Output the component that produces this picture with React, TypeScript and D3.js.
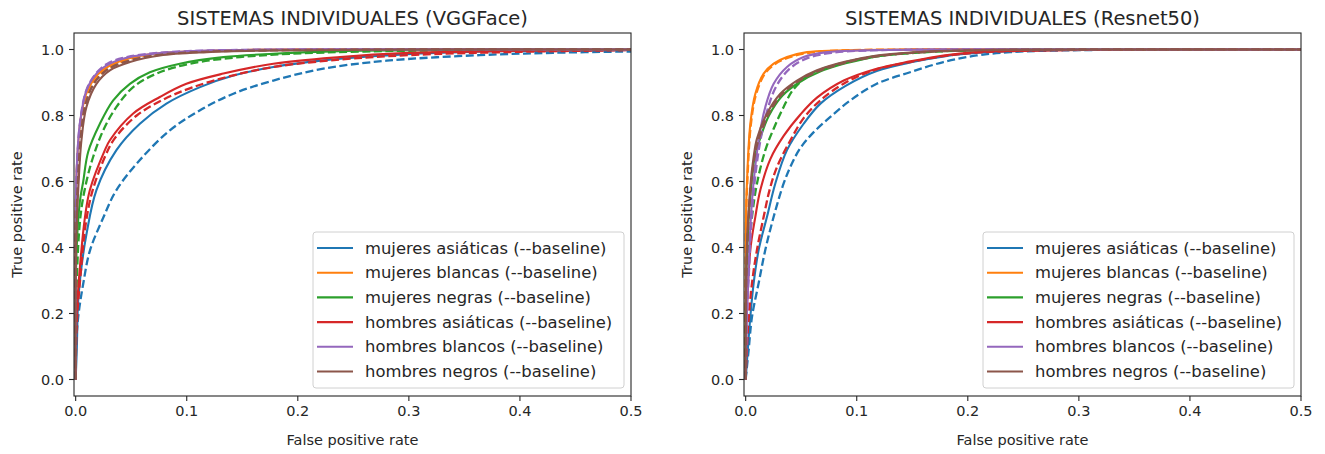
import React from "react";
import * as d3 from "d3";

type Pt = [number, number];

// ---------- Categories / legend labels ----------
const groupLabels = [
  "mujeres asiáticas (--baseline)",
  "mujeres blancas (--baseline)",
  "mujeres negras (--baseline)",
  "hombres asiáticas (--baseline)",
  "hombres blancos (--baseline)",
  "hombres negros (--baseline)",
];
const groupColors = ["#1f77b4", "#ff7f0e", "#2ca02c", "#d62728", "#9467bd", "#8c564b"];
const panelTitles = ["SISTEMAS INDIVIDUALES (VGGFace)", "SISTEMAS INDIVIDUALES (Resnet50)"];
const xTicks = [0, 0.1, 0.2, 0.3, 0.4, 0.5];
const yTicks = [0, 0.2, 0.4, 0.6, 0.8, 1.0];

// ---------- VGGFace: [fpr, tpr] ----------
const vggAsianWomen: Pt[] = [[0,0],[0.001,0.09],[0.0023,0.24],[0.0052,0.34],[0.0097,0.44],[0.0187,0.574],[0.0367,0.695],[0.0578,0.775],[0.0817,0.836],[0.112,0.886],[0.142,0.921],[0.178,0.947],[0.223,0.967],[0.295,0.985],[0.37,0.994],[0.5,0.999]];
const vggAsianWomenBase: Pt[] = [[0,0],[0,0.08],[0.0023,0.19],[0.0068,0.29],[0.0128,0.39],[0.0248,0.49],[0.0367,0.574],[0.0578,0.665],[0.0848,0.755],[0.112,0.816],[0.142,0.866],[0.178,0.906],[0.223,0.942],[0.28,0.966],[0.364,0.983],[0.43,0.99],[0.5,0.994]];
const vggWhiteWomen: Pt[] = [[0,0],[0.0002,0.55],[0.002,0.7],[0.005,0.8],[0.01,0.87],[0.02,0.925],[0.03,0.95],[0.05,0.975],[0.08,0.99],[0.13,0.997],[0.2,1],[0.5,1]];
const vggWhiteWomenBase: Pt[] = [[0,0],[0.0002,0.52],[0.0022,0.69],[0.0055,0.79],[0.011,0.865],[0.021,0.92],[0.032,0.948],[0.052,0.974],[0.082,0.988],[0.13,0.996],[0.2,1],[0.5,1]];
const vggBlackWomen: Pt[] = [[0,0],[0.0008,0.39],[0.0038,0.54],[0.0068,0.6],[0.0113,0.69],[0.0218,0.775],[0.0338,0.846],[0.0488,0.896],[0.0668,0.931],[0.0938,0.957],[0.133,0.977],[0.178,0.987],[0.238,0.995],[0.33,0.998],[0.5,1]];
const vggBlackWomenBase: Pt[] = [[0,0],[0.001,0.3],[0.0045,0.5],[0.0097,0.6],[0.0158,0.675],[0.0248,0.755],[0.0367,0.826],[0.0518,0.886],[0.0728,0.927],[0.103,0.957],[0.148,0.977],[0.193,0.987],[0.26,0.994],[0.35,0.998],[0.5,1]];
const vggAsianMen: Pt[] = [[0,0],[0.0008,0.19],[0.0038,0.34],[0.0083,0.49],[0.0128,0.574],[0.0263,0.695],[0.0308,0.725],[0.0518,0.806],[0.0758,0.856],[0.0997,0.896],[0.133,0.927],[0.178,0.957],[0.238,0.977],[0.295,0.989],[0.4,0.996],[0.5,0.999]];
const vggAsianMenBase: Pt[] = [[0,0],[0.001,0.17],[0.0045,0.32],[0.009,0.47],[0.015,0.57],[0.027,0.68],[0.035,0.73],[0.055,0.8],[0.08,0.85],[0.105,0.885],[0.14,0.92],[0.18,0.948],[0.24,0.97],[0.3,0.983],[0.4,0.993],[0.5,0.998]];
const vggWhiteMen: Pt[] = [[0,0],[0.0002,0.5],[0.0008,0.625],[0.0038,0.775],[0.0097,0.876],[0.0187,0.927],[0.0308,0.957],[0.0488,0.977],[0.0758,0.989],[0.118,0.997],[0.2,1],[0.5,1]];
const vggWhiteMenBase: Pt[] = [[0,0],[0.0002,0.48],[0.001,0.63],[0.004,0.78],[0.01,0.88],[0.019,0.93],[0.03,0.96],[0.047,0.978],[0.075,0.99],[0.12,0.997],[0.2,1],[0.5,1]];
const vggBlackMen: Pt[] = [[0,0],[0.0003,0.4],[0.0023,0.574],[0.0052,0.725],[0.0097,0.826],[0.0187,0.896],[0.0308,0.937],[0.0488,0.962],[0.0758,0.982],[0.118,0.992],[0.178,0.997],[0.3,1],[0.5,1]];
const vggBlackMenBase: Pt[] = [[0,0],[0.0003,0.42],[0.002,0.6],[0.0048,0.74],[0.009,0.835],[0.017,0.9],[0.029,0.94],[0.047,0.965],[0.073,0.983],[0.115,0.993],[0.17,0.997],[0.3,1],[0.5,1]];

// ---------- Resnet50: [fpr, tpr] ----------
const resAsianWomen: Pt[] = [[0,0],[0.0042,0.19],[0.0072,0.292],[0.0117,0.393],[0.0192,0.493],[0.0267,0.594],[0.0372,0.695],[0.0522,0.775],[0.0673,0.836],[0.09,0.89],[0.118,0.935],[0.15,0.962],[0.18,0.98],[0.21,0.99],[0.26,0.997],[0.35,1],[0.5,1]];
const resAsianWomenBase: Pt[] = [[0,0],[0.0027,0.09],[0.0057,0.19],[0.0117,0.292],[0.0177,0.393],[0.0252,0.493],[0.0342,0.594],[0.041,0.65],[0.049,0.7],[0.06,0.745],[0.076,0.795],[0.0943,0.846],[0.118,0.896],[0.148,0.931],[0.178,0.962],[0.208,0.982],[0.238,0.992],[0.3,0.998],[0.5,1]];
const resWhiteWomen: Pt[] = [[0,0],[0.0003,0.5],[0.0012,0.6],[0.0042,0.775],[0.0087,0.866],[0.0162,0.927],[0.0252,0.957],[0.0372,0.977],[0.0552,0.992],[0.082,0.997],[0.15,1],[0.5,1]];
const resWhiteWomenBase: Pt[] = [[0,0],[0.0003,0.48],[0.0015,0.6],[0.0046,0.77],[0.0092,0.862],[0.017,0.925],[0.026,0.955],[0.039,0.976],[0.057,0.99],[0.085,0.997],[0.15,1],[0.5,1]];
const resBlackWomen: Pt[] = [[0,0],[0.001,0.36],[0.0045,0.57],[0.008,0.67],[0.012,0.72],[0.021,0.8],[0.033,0.86],[0.048,0.9],[0.067,0.933],[0.09,0.958],[0.12,0.98],[0.165,0.993],[0.22,0.998],[0.3,1],[0.5,1]];
const resBlackWomenBase: Pt[] = [[0,0],[0.002,0.35],[0.0057,0.493],[0.0102,0.594],[0.0177,0.695],[0.0252,0.76],[0.0342,0.826],[0.0432,0.88],[0.0583,0.925],[0.0793,0.952],[0.112,0.977],[0.148,0.989],[0.2,0.997],[0.3,1],[0.5,1]];
const resAsianMen: Pt[] = [[0,0],[0.001,0.2],[0.0042,0.393],[0.0087,0.493],[0.0132,0.574],[0.0222,0.668],[0.0342,0.738],[0.0493,0.803],[0.0642,0.854],[0.0883,0.906],[0.118,0.942],[0.148,0.964],[0.178,0.982],[0.208,0.992],[0.26,0.997],[0.35,1],[0.5,1]];
const resAsianMenBase: Pt[] = [[0,0],[0.002,0.15],[0.0057,0.292],[0.0102,0.393],[0.0162,0.493],[0.0215,0.574],[0.0282,0.644],[0.0403,0.725],[0.0522,0.792],[0.0673,0.846],[0.09,0.9],[0.118,0.94],[0.148,0.962],[0.178,0.98],[0.21,0.991],[0.26,0.997],[0.35,1],[0.5,1]];
const resWhiteMen: Pt[] = [[0,0],[0.001,0.19],[0.0027,0.34],[0.0045,0.48],[0.0072,0.6],[0.0117,0.725],[0.0177,0.826],[0.0252,0.896],[0.0372,0.947],[0.0522,0.977],[0.0733,0.992],[0.103,0.997],[0.18,1],[0.5,1]];
const resWhiteMenBase: Pt[] = [[0,0],[0.001,0.17],[0.003,0.33],[0.005,0.47],[0.0078,0.59],[0.0125,0.71],[0.019,0.81],[0.027,0.885],[0.039,0.94],[0.055,0.973],[0.077,0.99],[0.11,0.997],[0.18,1],[0.5,1]];
const resBlackMen: Pt[] = [[0,0],[0.001,0.39],[0.0042,0.585],[0.0072,0.675],[0.0102,0.73],[0.0192,0.806],[0.0312,0.866],[0.0462,0.906],[0.0642,0.937],[0.0883,0.962],[0.118,0.982],[0.163,0.994],[0.21,0.998],[0.3,1],[0.5,1]];
const resBlackMenBase: Pt[] = [[0,0],[0.001,0.37],[0.0045,0.575],[0.0078,0.67],[0.011,0.72],[0.02,0.8],[0.032,0.862],[0.047,0.903],[0.066,0.935],[0.09,0.96],[0.12,0.98],[0.165,0.993],[0.21,0.998],[0.3,1],[0.5,1]];

const vggModel = [vggAsianWomen, vggWhiteWomen, vggBlackWomen, vggAsianMen, vggWhiteMen, vggBlackMen];
const vggBase = [vggAsianWomenBase, vggWhiteWomenBase, vggBlackWomenBase, vggAsianMenBase, vggWhiteMenBase, vggBlackMenBase];
const resModel = [resAsianWomen, resWhiteWomen, resBlackWomen, resAsianMen, resWhiteMen, resBlackMen];
const resBase = [resAsianWomenBase, resWhiteWomenBase, resBlackWomenBase, resAsianMenBase, resWhiteMenBase, resBlackMenBase];

const FONT = "DejaVu Sans, sans-serif";
const TEXT = "#262626";

function Panel({ title, left, right, model, base }: { title: string; left: number; right: number; model: Pt[][]; base: Pt[][] }) {
  const top = 33;
  const bottom = 396;
  const x = d3.scaleLinear().domain([-0.0015, 0.5]).range([left, right]);
  const y = d3.scaleLinear().domain([-0.05, 1.05]).range([bottom, top]);
  const line = d3
    .line<Pt>()
    .x((d) => x(d[0]))
    .y((d) => y(d[1]))
    .curve(d3.curveCatmullRom.alpha(0.5));
  const clipId = `clip-${left}`;
  const legW = 311;
  const legH = 156;
  const legX = right - 7 - legW;
  const legY = 232;
  const cx = (left + right) / 2;
  return (
    <g>
      <defs>
        <clipPath id={clipId}>
          <rect x={left} y={top} width={right - left} height={bottom - top} />
        </clipPath>
      </defs>
      <text x={cx} y={25} textAnchor="middle" fontSize={19.5} fill={TEXT} fontFamily={FONT}>
        {title}
      </text>
      <g clipPath={`url(#${clipId})`}>
        {model.map((_, i) => (
          <g key={i}>
            <path d={line(model[i]) || ""} fill="none" stroke={groupColors[i]} strokeWidth={2.1} strokeLinejoin="round" />
            <path d={line(base[i]) || ""} fill="none" stroke={groupColors[i]} strokeWidth={2.3} strokeDasharray="8,3.5" />
          </g>
        ))}
      </g>
      <rect x={left} y={top} width={right - left} height={bottom - top} fill="none" stroke="#262626" strokeWidth={1.1} />
      {xTicks.map((t) => (
        <g key={`x${t}`}>
          <line x1={x(t)} x2={x(t)} y1={bottom} y2={bottom + 5} stroke="#262626" strokeWidth={1.1} />
          <text x={x(t)} y={416} textAnchor="middle" fontSize={14.5} fill={TEXT} fontFamily={FONT}>
            {t.toFixed(1)}
          </text>
        </g>
      ))}
      {yTicks.map((t) => (
        <g key={`y${t}`}>
          <line x1={left - 5} x2={left} y1={y(t)} y2={y(t)} stroke="#262626" strokeWidth={1.1} />
          <text x={left - 10} y={y(t) + 5} textAnchor="end" fontSize={14.5} fill={TEXT} fontFamily={FONT}>
            {t.toFixed(1)}
          </text>
        </g>
      ))}
      <text x={cx} y={445} textAnchor="middle" fontSize={14.5} fill={TEXT} fontFamily={FONT}>
        False positive rate
      </text>
      <text
        transform={`translate(${left - 52},${(top + bottom) / 2}) rotate(-90)`}
        textAnchor="middle"
        fontSize={14.5}
        fill={TEXT}
        fontFamily={FONT}
      >
        True positive rate
      </text>
      <rect x={legX} y={legY} width={legW} height={legH} rx={3} fill="white" fillOpacity={0.85} stroke="#d0d0d0" strokeWidth={1} />
      {groupLabels.map((lab, i) => {
        const yy = legY + 16 + i * 24.7;
        return (
          <g key={lab}>
            <line x1={legX + 4} x2={legX + 40} y1={yy} y2={yy} stroke={groupColors[i]} strokeWidth={2.1} />
            <text x={legX + 52} y={yy + 5.5} fontSize={16.4} fill={TEXT} fontFamily={FONT}>
              {lab}
            </text>
          </g>
        );
      })}
    </g>
  );
}

export default function App() {
  return (
    <svg
      width={1325}
      height={454}
      style={{ position: "absolute", left: 0, top: 0, background: "white" }}
    >
      <Panel title={panelTitles[0]} left={74} right={631} model={vggModel} base={vggBase} />
      <Panel title={panelTitles[1]} left={744} right={1301} model={resModel} base={resBase} />
    </svg>
  );
}
